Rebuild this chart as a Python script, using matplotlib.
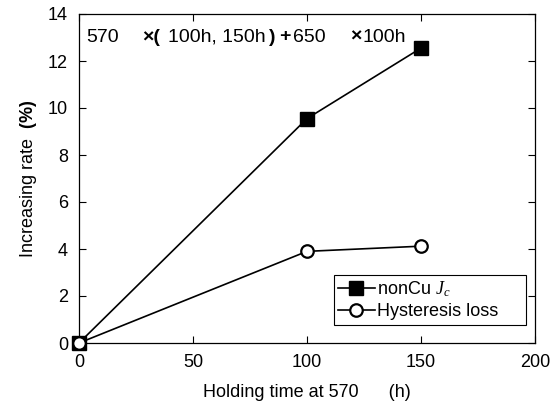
import matplotlib.pyplot as plt

hours = [0, 100, 150]
noncu_jc = [0.0, 9.55, 12.55]
hysteresis_loss = [0.0, 3.9, 4.12]

x_ticks = [0, 50, 100, 150, 200]
y_ticks = [0, 2, 4, 6, 8, 10, 12, 14]

# heat treatment note, split in pieces (text, left edge in px, bold)
note_parts = [
    ("570", 86, False),
    ("×(", 142, True),
    ("100h, 150h", 168, False),
    (")", 269, True),
    ("+", 279, True),
    ("650", 293, False),
    ("×", 350, True),
    ("100h", 363, False),
]

AX_LEFT, AX_RIGHT, AX_TOP, AX_BOTTOM = 79, 535, 14, 343


def main():
    plt.rcParams.update(
        {
            "font.family": ["Liberation Sans", "DejaVu Sans"],
            "mathtext.fontset": "custom",
            "mathtext.it": "Liberation Serif:italic",
            "mathtext.rm": "Liberation Sans",
            "mathtext.bf": "Liberation Sans:bold",
        }
    )

    fig = plt.figure(figsize=(5.6, 4.05), dpi=100)
    ax = fig.add_axes([AX_LEFT / 560, 1 - AX_BOTTOM / 405,
                       (AX_RIGHT - AX_LEFT) / 560, (AX_BOTTOM - AX_TOP) / 405])

    ax.plot(hours, noncu_jc, color="black", linewidth=1.2, marker="s",
            markersize=9.5, markerfacecolor="black", markeredgecolor="black",
            label="nonCu $J_c$", clip_on=False, zorder=3)
    ax.plot(hours, hysteresis_loss, color="black", linewidth=1.2, marker="o",
            markersize=9, markerfacecolor="white", markeredgecolor="black",
            markeredgewidth=1.6, label="Hysteresis loss", clip_on=False, zorder=4)

    ax.set_xlim(0, 200)
    ax.set_ylim(0, 14)
    ax.set_xticks(x_ticks)
    ax.set_yticks(y_ticks)
    ax.tick_params(direction="in", top=True, right=True, labelsize=13,
                   length=5, width=0.8, pad=8)
    for s in ax.spines.values():
        s.set_linewidth(0.9)

    ax.set_xlabel("Holding time at 570      (h)", fontsize=13, labelpad=9)
    ax.set_ylabel(r"Increasing rate  $\mathbf{(\%)}$", fontsize=13, labelpad=6)

    note_y = (AX_BOTTOM - 37) / (AX_BOTTOM - AX_TOP)
    for text, px, bold in note_parts:
        ax.text((px - AX_LEFT) / (AX_RIGHT - AX_LEFT), note_y, text,
                transform=ax.transAxes, fontsize=14, va="center", ha="left",
                fontweight="bold" if bold else "normal")

    # legend box spans a fixed area, text stays left aligned
    leg = ax.legend(loc="lower left", bbox_to_anchor=(0.559, 0.055, 0.421, 0.149),
                    mode="expand", fontsize=13, fancybox=False, framealpha=1,
                    edgecolor="black", handlelength=2.0, handletextpad=0.15,
                    borderpad=0.25, labelspacing=0.25, borderaxespad=0)
    leg.get_frame().set_linewidth(0.8)

    fig.savefig("out.png", dpi=100)


if __name__ == "__main__":
    main()
